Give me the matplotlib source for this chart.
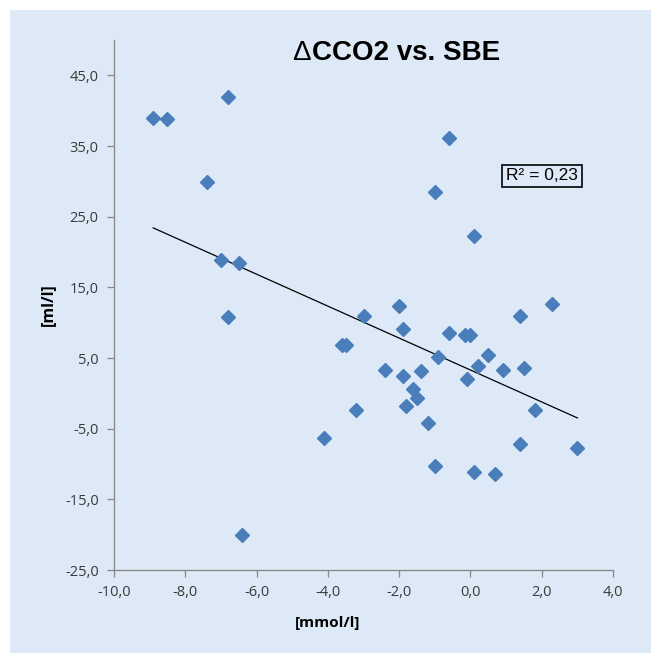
import numpy as np
import matplotlib
matplotlib.use('Agg')
import matplotlib.pyplot as plt
from matplotlib.patches import Rectangle

# values
sbe = [-8.9, -8.5, -6.8, -7.4, -7.0, -6.5, -6.8, -6.4,
       -0.6, -1.0, 0.1, 2.3, -2.0, -3.0, 1.4, -1.9, -3.6, -3.5,
       -0.6, -0.15, 0.0, -0.9, 0.5, 0.2, -2.4, -1.4, 0.9, 1.5,
       -1.9, -1.6, -0.1, -1.5, -1.8, -3.2, 1.8, -1.2, -4.1, 1.4,
       3.0, -1.0, 0.1, 0.7]
dcco2 = [38.9, 38.8, 41.9, 29.9, 18.9, 18.5, 10.8, -20.0,
         36.2, 28.5, 22.3, 12.7, 12.3, 11.0, 11.0, 9.1, 6.8, 6.8,
         8.6, 8.3, 8.3, 5.2, 5.4, 3.9, 3.3, 3.2, 3.3, 3.6,
         2.5, 0.6, 2.0, -0.7, -1.8, -2.4, -2.4, -4.2, -6.3, -7.2,
         -7.7, -10.3, -11.1, -11.4]

# trendline as shown (slope, intercept) and its x range
trend_coef = [-2.26, 3.3]
trend_x = [-8.9, 3.0]

xticks = [-10, -8, -6, -4, -2, 0, 2, 4]
yticks = [-25, -15, -5, 5, 15, 25, 35, 45]

bg = '#dde9f6'
blue = '#4a7ebb'
grey = '#868686'

fig = plt.figure(figsize=(6.51, 6.53), dpi=100)
fig.patch.set_facecolor('white')
# light blue panel, white strip only at top and left
fig.patches.append(Rectangle((10/651, -0.1), 1.2, 1.1 - 10/653, transform=fig.transFigure,
                             facecolor=bg, edgecolor='none', zorder=-10))

ax = fig.add_axes([114/651, 1 - 570/653, (613 - 114)/651, (570 - 40)/653])
ax.set_facecolor(bg)

ax.plot(sbe, dcco2, linestyle='none', marker='D', ms=7, color=blue,
        markeredgecolor=blue, zorder=3)

tx = np.array(trend_x)
ax.plot(tx, np.polyval(trend_coef, tx), color='black', lw=0.9, zorder=2)

ax.set_xlim(-10, 4)
ax.set_ylim(-25, 50)
ax.set_xticks(xticks)
ax.set_yticks(yticks)
ax.set_xticklabels([('%.1f' % v).replace('.', ',') for v in xticks])
ax.set_yticklabels([('%.1f' % v).replace('.', ',') for v in yticks])

for s in ['top', 'right']:
    ax.spines[s].set_visible(False)
for s in ['left', 'bottom']:
    ax.spines[s].set_color(grey)
    ax.spines[s].set_linewidth(0.9)
ax.tick_params(direction='out', length=5, width=0.9, color=grey,
               labelsize=10.5, labelcolor='#3a3a3a', pad=6)
for lab in ax.get_xticklabels() + ax.get_yticklabels():
    lab.set_fontfamily('Open Sans')

# title: thin delta, bold rest
fig.text(311/651, 1 - 53/653, '\u0394', ha='right', va='center',
         fontsize=20, family='Liberation Sans', color='black')
fig.text(312/651, 1 - 53/653, 'CCO2 vs. SBE', ha='left', va='center',
         fontsize=20, fontweight='bold', family='Liberation Sans', color='black')

fig.text(328/651, 1 - 623/653, '[mmol/l]', ha='center', va='center',
         fontsize=11, fontweight='bold', family='Open Sans', color='black')
fig.text(48/651, 1 - 305/653, '[ml/l]', ha='center', va='center', rotation=90,
         fontsize=11.5, fontweight='bold', family='Open Sans', color='black')

fig.text(542/651, 1 - 176/653, 'R\u00b2 = 0,23', ha='center', va='center',
         fontsize=12.5, family='Liberation Sans', color='black',
         bbox=dict(boxstyle='square,pad=0.22', facecolor=bg, edgecolor='black', lw=1.2))

fig.savefig('out.png', dpi=100, facecolor=fig.get_facecolor())
